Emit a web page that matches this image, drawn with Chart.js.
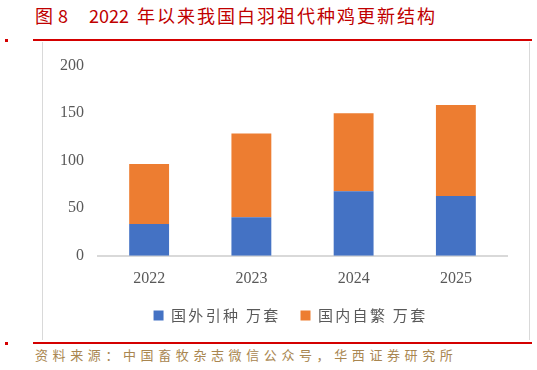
<!DOCTYPE html>
<html><head><meta charset="utf-8">
<script src="https://cdn.jsdelivr.net/npm/chart.js@4"></script>
<style>
html,body{margin:0;padding:0;background:#fff;width:537px;height:370px;overflow:hidden;position:relative;font-family:"Noto Sans CJK SC",sans-serif;}
.t{position:absolute;top:2px;font-size:18px;color:#c00000;white-space:nowrap;}
.rl{position:absolute;background:#d40000;}
#box{position:absolute;left:42px;top:42px;width:486px;height:298px;border:1px solid #d9d9d9;border-top:none;border-bottom:none;}
#src{position:absolute;left:35px;top:345px;font-size:13px;color:#a98650;white-space:nowrap;letter-spacing:4.6px;}
#c{position:absolute;left:42px;top:42px;}
</style></head><body>
<div id="title"><span class="t" style="left:35px">图</span><span class="t" style="left:58px">8</span><span class="t" style="left:89px">2022</span><span class="t" style="left:137px;letter-spacing:2px">年以来我国白羽祖代种鸡更新结构</span></div>
<div class="rl" style="left:5px;top:39px;width:3px;height:3px"></div>
<div class="rl" style="left:33px;top:39px;width:499px;height:2px"></div>
<div id="box"></div>
<div class="rl" style="left:5px;top:342px;width:3px;height:3px"></div>
<div class="rl" style="left:33px;top:342px;width:499px;height:2px"></div>
<div id="src">资料来源：中国畜牧杂志微信公众号，华西证券研究所</div>
<canvas id="c" width="487" height="299"></canvas>
<script>
const categories = ["2022", "2023", "2024", "2025"];
const importVals = [33.5, 40.5, 68, 63];
const domesticVals = [63, 88, 82, 95.5];
const seriesNames = ["国外引种 万套", "国内自繁 万套"];
const yTicks = [0, 50, 100, 150, 200];

const legendTweak = {
  id: 'legendTweak',
  beforeUpdate(chart) {
    const lg = chart.legend;
    if (!lg || lg._patched) return;
    lg._patched = true;
    const origFit = lg.fit.bind(lg);
    const origDraw = lg.draw.bind(lg);
    lg.fit = function () {
      const ctx = this.ctx;
      ctx.save(); ctx.letterSpacing = '2.3px';
      origFit();
      ctx.restore();
      this.height -= 7;
    };
    lg.draw = function () {
      const ctx = this.ctx;
      ctx.save(); ctx.letterSpacing = '2.3px';
      ctx.translate(16, -13);
      origDraw();
      ctx.restore();
    };
  }
};

new Chart(document.getElementById('c'), {
  type: 'bar',
  data: {
    labels: categories,
    datasets: [
      {label: seriesNames[0], data: importVals, backgroundColor: '#4472c4', barPercentage: 0.39, categoryPercentage: 1},
      {label: seriesNames[1], data: domesticVals, backgroundColor: '#ed7d31', barPercentage: 0.39, categoryPercentage: 1}
    ]
  },
  options: {
    responsive: false,
    animation: false,
    layout: {padding: {top: 15, right: 22, left: 0, bottom: 2}},
    plugins: {
      tooltip: {enabled: false},
      legend: {
        position: 'bottom',
        labels: {
          boxWidth: 10, boxHeight: 10, padding: 20,
          color: '#595959',
          font: {family: '"Noto Sans CJK SC"', size: 15}
        }
      }
    },
    scales: {
      x: {
        stacked: true,
        grid: {display: false, drawTicks: false},
        border: {color: '#d9d9d9', width: 2},
        ticks: {color: '#595959', padding: 13, font: {family: '"Liberation Serif"', size: 16}}
      },
      y: {
        stacked: true,
        min: 0, max: 200,
        afterBuildTicks: (s) => { s.ticks = yTicks.map(v => ({value: v})); },
        afterFit: (s) => { s.width = 56; },
        grid: {display: false, drawTicks: false},
        border: {display: false},
        ticks: {color: '#595959', padding: 14, font: {family: '"Liberation Serif"', size: 16}}
      }
    }
  },
  plugins: [legendTweak]
});
</script>
</body></html>
